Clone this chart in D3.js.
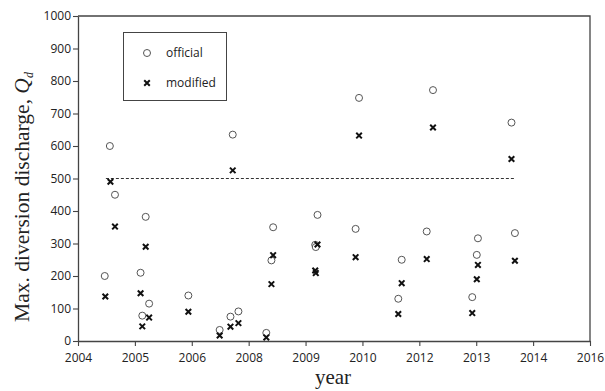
<!DOCTYPE html>
<html>
<head>
<meta charset="utf-8">
<script src="https://cdn.jsdelivr.net/npm/d3@7"></script>
<style>
  body { margin: 0; background: #fff; }
  svg { display: block; }
</style>
</head>
<body>
<svg id="chart" width="605" height="391"></svg>
<script>
// tick labels on the x axis (evenly spaced, as in the original)
const xTickLabels = ["2004", "2005", "2006", "2008", "2009", "2010", "2012", "2013", "2014", "2016"];
const yTicks = [0, 100, 200, 300, 400, 500, 600, 700, 800, 900, 1000];

// official Qd values (x given in axis units, 0 = first tick)
const officialX = [0.47, 0.56, 0.65, 1.10, 1.19, 1.13, 1.25, 1.94, 2.49, 2.68, 2.82, 2.72, 3.31, 3.43, 3.40,
                   4.21, 4.17, 4.18, 4.88, 4.94, 5.63, 5.69, 6.13, 6.24, 6.93, 7.01, 7.03, 7.62, 7.68];
const officialY = [200, 600, 450, 210, 382, 78, 115, 140, 34, 75, 91, 635, 25, 350, 248,
                   388, 296, 289, 345, 748, 130, 250, 337, 772, 135, 265, 316, 672, 332];

// modified Qd values
const modifiedX = [0.48, 0.57, 0.65, 1.10, 1.19, 1.13, 1.25, 1.94, 2.49, 2.68, 2.82, 2.72, 3.31, 3.43, 3.40,
                   4.21, 4.17, 4.18, 4.88, 4.94, 5.63, 5.69, 6.13, 6.24, 6.93, 7.01, 7.03, 7.62, 7.68];
const modifiedY = [137, 490, 352, 147, 290, 45, 72, 90, 17, 44, 55, 525, 11, 264, 175,
                   297, 217, 209, 258, 632, 83, 178, 252, 657, 86, 190, 234, 560, 247];

// dashed limit line
const limitX = [0.49, 7.68];
const limitY = 500;

const svg = d3.select("#chart");
const pL = 78, pR = 590, pT = 16, pB = 341;

const scX = d3.scaleLinear().domain([0, 9]).range([pL, pR]);
const scY = d3.scaleLinear().domain([0, 1000]).range([pB, pT]);

const axisColor = "#444";
const tickFont = "'Open Sans', 'Liberation Sans', sans-serif";

// frame (top and right)
svg.append("path")
    .attr("d", `M${pL},${pT}H${pR}V${pB}`)
    .attr("fill", "none").attr("stroke", axisColor).attr("stroke-width", 1.3);

// x axis
const gx = svg.append("g").attr("transform", `translate(0,${pB})`)
    .call(d3.axisBottom(scX).tickValues(d3.range(10)).tickSize(5).tickSizeOuter(0)
        .tickFormat(i => xTickLabels[i]));
// y axis
const gy = svg.append("g").attr("transform", `translate(${pL},0)`)
    .call(d3.axisLeft(scY).tickValues(yTicks).tickSize(5).tickSizeOuter(0)
        .tickFormat(d3.format("d")));

[gx, gy].forEach(g => {
    g.select(".domain").attr("stroke", axisColor).attr("stroke-width", 1.3);
    g.selectAll(".tick line").attr("stroke", axisColor).attr("stroke-width", 1.1);
    g.selectAll(".tick text").attr("fill", "#222")
        .style("font-family", tickFont).style("font-size", "12px");
});
gx.selectAll(".tick text").attr("dy", "1.1em");
gy.selectAll(".tick text").attr("x", -7);

// dashed line at 500
svg.append("line")
    .attr("x1", scX(limitX[0])).attr("x2", scX(limitX[1]))
    .attr("y1", scY(limitY)).attr("y2", scY(limitY))
    .attr("stroke", "#333").attr("stroke-width", 1).attr("stroke-dasharray", "3,2");

// official points
const official = officialX.map((x, i) => ({ x: x, y: officialY[i] }));
svg.append("g").attr("id", "official")
    .selectAll("circle")
    .data(official).enter().append("circle")
    .attr("cx", d => scX(d.x)).attr("cy", d => scY(d.y))
    .attr("r", 3.5).attr("fill", "white")
    .attr("stroke", "#555").attr("stroke-width", 1);

// modified points (crosses)
const modified = modifiedX.map((x, i) => ({ x: x, y: modifiedY[i] }));
const cross = d3.symbol().type(d3.symbolX).size(22);
svg.append("g").attr("id", "modified")
    .selectAll("path")
    .data(modified).enter().append("path")
    .attr("transform", d => `translate(${scX(d.x)},${scY(d.y)})`)
    .attr("d", cross())
    .attr("fill", "none").attr("stroke", "#111").attr("stroke-width", 2);

// legend
const lg = svg.append("g");
lg.append("rect").attr("x", 123.5).attr("y", 32.5).attr("width", 103).attr("height", 68)
    .attr("fill", "white").attr("stroke", "#444").attr("stroke-width", 1);
lg.append("circle").attr("cx", 147).attr("cy", 53).attr("r", 3.5)
    .attr("fill", "white").attr("stroke", "#555");
lg.append("path").attr("transform", "translate(147,83)").attr("d", cross())
    .attr("fill", "none").attr("stroke", "#111").attr("stroke-width", 2);
lg.selectAll("text").data(["official", "modified"]).enter().append("text")
    .attr("x", 166).attr("y", (d, i) => 53 + i * 30).attr("dy", "0.35em")
    .style("font-family", tickFont).style("font-size", "12px").attr("fill", "#222")
    .text(d => d);

// axis titles
const serif = "'Liberation Serif', 'DejaVu Serif', serif";
svg.append("text")
    .attr("x", 333).attr("y", 384).attr("text-anchor", "middle")
    .style("font-family", serif).style("font-size", "21px").attr("fill", "#222")
    .text("year");

const yl = svg.append("text")
    .attr("transform", "translate(29,197) rotate(-90)").attr("text-anchor", "middle")
    .style("font-family", serif).style("font-size", "21.5px").attr("fill", "#222");
yl.append("tspan").text("Max. diversion discharge, ");
yl.append("tspan").style("font-style", "italic").text("Q");
yl.append("tspan").style("font-style", "italic").style("font-size", "12px").attr("dy", 4).text("d");
</script>
</body>
</html>
